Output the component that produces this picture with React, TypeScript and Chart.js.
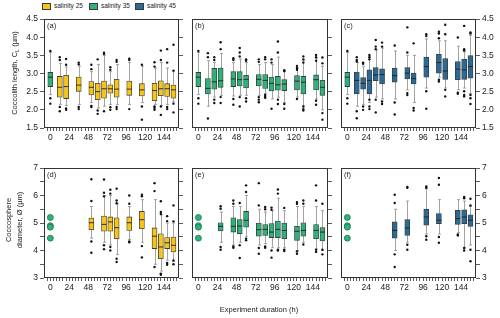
import React, { useEffect, useRef } from "react";
import { Chart, registerables } from "chart.js";

Chart.register(...registerables);

const FONT_FAMILY = "'Liberation Sans', Arial, Helvetica, sans-serif";
const COLOR_25 = "#f6c519";
const COLOR_35 = "#2fb27a";
const COLOR_45 = "#2b6a95";
const EDGE = "#3a3a3a";
const TEXT = "#222";

// x axis (experiment duration, h)
const X_LABELS = [0, 24, 48, 72, 96, 120, 144];
// y ticks
const LENGTH_TICKS = [1.5, 2, 2.5, 3, 3.5, 4, 4.5];
const DIAMETER_TICKS = [3, 3.5, 4, 4.5, 5, 5.5, 6, 6.5, 7];
const DIAMETER_LABELS = [3, 4, 5, 6, 7];

type Stat = [number, number, number, number, number, number]; // [t, whiskerLow, q1, median, q3, whiskerHigh]

// reference (t = 0, salinity 35 inoculum)
const REF_LENGTH: Stat = [0, 2.42, 2.64, 2.9, 3.03, 3.58];
const REF_LENGTH_OUT = [3.62, 2.32, 2.17];
const REF_DIAMETER = [5.2, 4.9, 4.85, 4.45];

// (a) coccolith length, salinity 25
const LENGTH_S25: Stat[] = [
  [12, 2.15, 2.35, 2.62, 2.92, 3.28],
  [20, 2.12, 2.31, 2.64, 2.95, 3.18],
  [36, 2.15, 2.51, 2.68, 2.9, 3.2],
  [52, 2.2, 2.41, 2.62, 2.78, 3.05],
  [60, 2.05, 2.28, 2.5, 2.73, 3.25],
  [68, 2.1, 2.32, 2.58, 2.79, 3.5],
  [76, 2.15, 2.46, 2.58, 2.69, 3.05],
  [84, 2.15, 2.35, 2.57, 2.84, 3.25],
  [100, 2.15, 2.4, 2.57, 2.79, 3.3],
  [116, 2.2, 2.38, 2.55, 2.72, 3.2],
  [132, 2.15, 2.25, 2.53, 2.73, 3.15],
  [140, 2.12, 2.39, 2.58, 2.8, 3.3],
  [148, 2.15, 2.37, 2.58, 2.72, 3.15],
  [156, 2.22, 2.32, 2.55, 2.68, 3.05],
];
const LENGTH_S25_OUT = [
  [3.45, 3.37, 2.08, 1.96],
  [3.4, 3.24, 2.04, 2.0],
  [3.3, 3.25, 2.08, 2.02],
  [3.24, 3.12, 2.11, 2.08],
  [3.39, 1.98, 1.89],
  [3.57, 3.54, 1.96],
  [3.17, 3.1, 2.07, 2.0],
  [3.37, 3.32, 2.08, 2.02],
  [3.41, 3.37, 2.02],
  [3.24, 2.09, 1.73],
  [3.31, 3.19, 2.09, 2.05, 2.0],
  [3.63, 3.37, 2.09, 1.86],
  [3.67, 3.3, 2.08, 2.02],
  [3.79, 3.08, 2.17, 1.93],
];

// (b) coccolith length, salinity 35
const LENGTH_S35: Stat[] = [
  [12, 2.1, 2.44, 2.59, 2.86, 3.35],
  [20, 2.35, 2.57, 2.77, 3.14, 3.3],
  [28, 2.4, 2.62, 2.8, 3.15, 3.55],
  [44, 2.38, 2.64, 2.85, 3.05, 3.3],
  [52, 2.4, 2.66, 2.83, 3.05, 3.4],
  [60, 2.4, 2.6, 2.84, 2.95, 3.3],
  [76, 2.4, 2.66, 2.84, 2.97, 3.25],
  [84, 2.45, 2.59, 2.81, 2.97, 3.3],
  [92, 2.3, 2.52, 2.73, 2.9, 3.25],
  [100, 2.35, 2.54, 2.69, 2.92, 3.45],
  [108, 2.2, 2.53, 2.71, 2.83, 3.05],
  [124, 2.35, 2.55, 2.79, 2.94, 3.15],
  [132, 2.1, 2.44, 2.76, 2.92, 3.35],
  [148, 2.3, 2.55, 2.83, 2.96, 3.42],
  [156, 2.0, 2.4, 2.62, 2.81, 3.2],
];
const LENGTH_S35_OUT = [
  [3.56, 3.45, 1.76],
  [3.45, 3.37, 2.28, 2.19],
  [3.86, 3.67, 2.35, 2.19],
  [3.42, 3.37, 2.3, 2.14],
  [3.7, 3.58, 3.47, 2.35, 2.09],
  [3.39, 3.35, 2.32, 2.23],
  [3.39, 3.32, 2.35, 2.28, 2.21],
  [3.45, 3.39, 2.41, 2.37, 2.33],
  [3.39, 3.3, 2.03],
  [3.88, 3.58, 2.28, 2.16],
  [3.09, 3.07, 2.16, 2.03],
  [3.21, 3.15, 3.1, 2.3],
  [3.47, 3.39, 3.3, 2.09, 2.02, 1.98],
  [3.51, 3.45, 3.35, 2.25, 2.14],
  [3.44, 3.28, 1.91, 1.73],
];

// (c) coccolith length, salinity 45
const LENGTH_S45: Stat[] = [
  [12, 2.1, 2.44, 2.81, 3.04, 3.3],
  [20, 2.15, 2.57, 2.73, 2.89, 3.2],
  [28, 2.2, 2.44, 2.81, 3.1, 3.45],
  [36, 2.35, 2.8, 2.96, 3.16, 3.65],
  [44, 2.3, 2.71, 2.97, 3.13, 3.7],
  [60, 2.3, 2.76, 2.94, 3.15, 3.62],
  [76, 2.55, 2.85, 3.01, 3.16, 3.5],
  [84, 2.2, 2.71, 2.86, 3.01, 3.5],
  [100, 2.6, 2.9, 3.19, 3.45, 3.95],
  [116, 2.9, 3.01, 3.3, 3.53, 3.9],
  [124, 2.6, 2.84, 3.07, 3.41, 3.9],
  [140, 2.55, 2.83, 3.12, 3.33, 3.75],
  [148, 2.6, 2.84, 3.1, 3.4, 3.6],
  [156, 2.45, 2.87, 3.19, 3.49, 4.05],
];
const LENGTH_S45_OUT = [
  [3.45, 3.37, 3.33, 1.96, 1.77],
  [3.3, 3.27, 2.09, 2.0],
  [3.51, 3.45, 3.39, 2.28, 2.09, 2.02],
  [3.92, 3.74, 3.67, 2.28, 1.93],
  [3.85, 3.74, 2.23, 2.16],
  [3.77, 2.2, 1.87],
  [4.27, 3.58, 2.46, 2.41],
  [3.83, 2.05, 1.98],
  [4.08, 4.03, 2.51, 2.03],
  [4.15, 4.1, 3.97, 2.83, 2.78],
  [4.34, 4.08, 2.55, 2.37],
  [3.99, 2.47, 2.44],
  [4.31, 3.67, 3.63, 2.51, 2.41, 2.37],
  [4.13, 4.1, 2.41, 2.32, 2.16],
];

// (d) coccosphere diameter, salinity 25
const DIAM_S25: Stat[] = [
  [52, 4.45, 4.76, 5.01, 5.18, 5.6],
  [68, 4.3, 4.7, 4.95, 5.25, 6.0],
  [76, 4.2, 4.7, 5.04, 5.22, 6.0],
  [84, 3.85, 4.43, 4.83, 5.19, 5.7],
  [100, 4.4, 4.73, 5.01, 5.22, 5.6],
  [116, 4.3, 4.79, 5.12, 5.42, 5.85],
  [132, 3.5, 4.07, 4.52, 4.82, 5.85],
  [140, 3.25, 3.7, 4.13, 4.61, 5.3],
  [148, 3.65, 4.07, 4.28, 4.47, 5.0],
  [156, 3.6, 3.95, 4.19, 4.49, 5.0],
];
const DIAM_S25_OUT = [
  [6.59, 5.8, 4.33, 3.92],
  [6.58, 6.1, 5.97, 4.19, 4.05],
  [6.21, 6.07, 4.13, 4.0],
  [6.25, 5.82, 5.72, 3.7, 3.58],
  [6.0, 5.7, 4.33, 4.3],
  [6.03, 5.97, 4.16, 3.75],
  [6.45, 6.16, 3.4],
  [5.79, 5.4, 5.33, 3.16, 3.12],
  [5.25, 5.07, 3.55, 3.48],
  [5.64, 5.06, 3.64, 3.5],
];

// (e) coccosphere diameter, salinity 35
const DIAM_S35: Stat[] = [
  [28, 4.3, 4.71, 4.88, 5.01, 5.4],
  [44, 4.2, 4.67, 4.88, 5.19, 5.6],
  [52, 4.3, 4.61, 4.89, 5.12, 5.6],
  [60, 4.5, 4.85, 5.1, 5.42, 6.0],
  [76, 4.2, 4.52, 4.76, 5.0, 5.5],
  [84, 4.25, 4.55, 4.77, 4.94, 5.4],
  [92, 4.1, 4.47, 4.67, 4.98, 5.45],
  [100, 4.1, 4.47, 4.77, 5.07, 5.9],
  [108, 4.1, 4.43, 4.73, 5.0, 5.45],
  [124, 4.0, 4.37, 4.7, 4.88, 5.6],
  [132, 4.3, 4.52, 4.73, 5.01, 5.6],
  [148, 4.05, 4.43, 4.73, 4.94, 5.6],
  [156, 4.0, 4.35, 4.67, 4.83, 5.45],
];
const DIAM_S35_OUT = [
  [5.61, 5.52, 4.13, 4.03],
  [5.82, 5.7, 4.15, 4.1],
  [5.73, 4.19, 3.73],
  [6.37, 6.13, 4.43, 4.37],
  [6.45, 5.64, 4.09, 3.88],
  [5.58, 5.5, 4.15, 4.1],
  [5.56, 5.48, 4.0, 3.74],
  [6.22, 6.07, 4.03, 4.0],
  [5.55, 4.03, 3.98],
  [5.76, 5.7, 3.97, 3.88],
  [5.82, 5.7, 4.22],
  [6.37, 5.82, 4.03, 3.95],
  [5.7, 4.03, 3.86],
];

// (f) coccosphere diameter, salinity 45
const DIAM_S45: Stat[] = [
  [60, 4.0, 4.45, 4.73, 5.04, 5.5],
  [76, 4.3, 4.55, 4.82, 5.12, 5.8],
  [100, 4.6, 4.92, 5.22, 5.5, 6.25],
  [116, 4.6, 4.98, 5.1, 5.34, 5.85],
  [140, 4.65, 4.95, 5.16, 5.46, 5.85],
  [148, 4.1, 4.98, 5.22, 5.48, 5.8],
  [156, 4.2, 4.88, 5.1, 5.3, 5.6],
];
const DIAM_S45_OUT = [
  [6.03, 5.73, 3.86, 3.4],
  [6.31, 6.28, 4.21, 4.03],
  [6.33, 6.28, 4.52, 4.39],
  [6.64, 6.39, 4.49, 4.28],
  [4.58, 4.55],
  [5.95, 5.9, 4.09, 4.0],
  [5.88, 5.64, 4.03, 3.61],
];

const X_MIN = -8;
const X_MAX = 163;
const PAD_TOP = 8;
const BOTTOM_H = 18;

type PanelProps = {
  label: string;
  stats: Stat[];
  outs: number[][];
  color: string;
  refKind: "box" | "dots";
  yMin: number;
  yMax: number;
  yTicks: number[];
  yLabels: number[];
  decimals: number;
  showLeft: boolean;
  showRight: boolean;
  plotL: number;
  plotR: number;
  plotT: number;
  plotB: number;
  leftW: number;
  rightW: number;
};

function Panel(p: PanelProps) {
  const ref = useRef<HTMLCanvasElement>(null);
  const width = p.plotR - p.plotL + p.leftW + p.rightW;
  const height = PAD_TOP + (p.plotB - p.plotT) + BOTTOM_H;
  const left = p.plotL - p.leftW;
  const top = p.plotT - PAD_TOP;

  useEffect(() => {
    const allBoxes: Stat[] = p.refKind === "box" ? [REF_LENGTH, ...p.stats] : [...p.stats];
    const outPts: { x: number; y: number }[] = [];
    p.stats.forEach((s, i) => (p.outs[i] || []).forEach((v) => outPts.push({ x: s[0], y: v })));
    if (p.refKind === "box") REF_LENGTH_OUT.forEach((v) => outPts.push({ x: 0, y: v }));

    const tickFont = { family: FONT_FAMILY, size: 8.5 };
    const yLabelCb = (v: any) => {
      const n = Number(v);
      return p.yLabels.some((l) => Math.abs(l - n) < 1e-6) ? n.toFixed(p.decimals) : "";
    };
    const yTicksBuild = (axis: any) => {
      axis.ticks = p.yTicks.map((v) => ({ value: v }));
    };

    const datasets: any[] = [];
    if (p.refKind === "box") {
      datasets.push({
        type: "bar",
        data: [{ x: REF_LENGTH[0], y: [REF_LENGTH[2], REF_LENGTH[4]] }],
        backgroundColor: COLOR_35,
        borderColor: EDGE,
        borderWidth: 0.8,
        borderSkipped: false,
        barThickness: 5,
        grouped: false,
        order: 3,
      });
    }
    datasets.push({
      type: "bar",
      data: p.stats.map((s) => ({ x: s[0], y: [s[2], s[4]] })),
      backgroundColor: p.color,
      borderColor: EDGE,
      borderWidth: 0.8,
      borderSkipped: false,
      barThickness: 5,
      grouped: false,
      order: 3,
    });
    datasets.push({
      type: "scatter",
      data: outPts,
      pointRadius: 1.2,
      pointBackgroundColor: "#111",
      pointBorderWidth: 0,
      order: 1,
    });
    if (p.refKind === "dots") {
      datasets.push({
        type: "scatter",
        data: REF_DIAMETER.map((v) => ({ x: 0, y: v })),
        pointRadius: 3,
        pointBackgroundColor: COLOR_35,
        pointBorderColor: "#1d7a50",
        pointBorderWidth: 0.8,
        order: 0,
      });
    }

    const boxPlugin = {
      id: "boxWhiskers",
      beforeDatasetsDraw(chart: any) {
        const { ctx } = chart;
        const x = chart.scales.x;
        const y = chart.scales.y;
        ctx.save();
        ctx.strokeStyle = "#8c8c8c";
        ctx.lineWidth = 0.8;
        for (const b of allBoxes) {
          const px = Math.round(x.getPixelForValue(b[0])) + 0.5;
          const lo = y.getPixelForValue(b[1]);
          const hi = y.getPixelForValue(b[5]);
          ctx.beginPath();
          ctx.moveTo(px, lo);
          ctx.lineTo(px, hi);
          ctx.moveTo(px - 1.5, lo);
          ctx.lineTo(px + 1.5, lo);
          ctx.moveTo(px - 1.5, hi);
          ctx.lineTo(px + 1.5, hi);
          ctx.stroke();
        }
        ctx.restore();
      },
      afterDatasetsDraw(chart: any) {
        const { ctx, chartArea } = chart;
        const x = chart.scales.x;
        const y = chart.scales.y;
        ctx.save();
        ctx.strokeStyle = "#1e1e1e";
        ctx.lineWidth = 0.9;
        for (const b of allBoxes) {
          const px = x.getPixelForValue(b[0]);
          const py = y.getPixelForValue(b[3]);
          ctx.beginPath();
          ctx.moveTo(px - 2.5, py);
          ctx.lineTo(px + 2.5, py);
          ctx.stroke();
        }
        // frame
        ctx.strokeStyle = "#333";
        ctx.lineWidth = 1;
        const l = Math.round(chartArea.left) + 0.5;
        const r = Math.round(chartArea.right) - 0.5;
        const t = Math.round(chartArea.top) + 0.5;
        const bt = Math.round(chartArea.bottom) - 0.5;
        ctx.strokeRect(l, t, r - l, bt - t);
        // panel label
        ctx.fillStyle = TEXT;
        ctx.font = `7.5px ${FONT_FAMILY}`;
        ctx.textBaseline = "top";
        ctx.textAlign = "left";
        ctx.fillText(p.label, chartArea.left + 3, chartArea.top + 3);
        ctx.restore();
      },
    };

    const chart = new Chart(ref.current as HTMLCanvasElement, {
      type: "bar",
      data: { datasets },
      options: {
        animation: false,
        responsive: false,
        devicePixelRatio: 1,
        layout: { padding: { top: PAD_TOP, left: 0, right: 0, bottom: 0 } },
        plugins: { legend: { display: false }, tooltip: { enabled: false } },
        scales: {
          x: {
            type: "linear",
            min: X_MIN,
            max: X_MAX,
            offset: false,
            afterBuildTicks: (axis: any) => {
              const arr: { value: number }[] = [];
              for (let v = -4; v <= 160; v += 4) arr.push({ value: v });
              axis.ticks = arr;
            },
            afterFit: (axis: any) => {
              axis.height = BOTTOM_H;
            },
            ticks: {
              autoSkip: false,
              maxRotation: 0,
              minRotation: 0,
              padding: 2,
              color: TEXT,
              font: tickFont,
              callback: (v: any) => (X_LABELS.includes(Number(v)) ? String(v) : ""),
            },
            grid: {
              display: true,
              offset: false,
              drawOnChartArea: false,
              drawTicks: true,
              tickLength: 3,
              color: "#333",
              lineWidth: 0.8,
            },
            border: { display: false },
          },
          y: {
            type: "linear",
            position: "left",
            min: p.yMin,
            max: p.yMax,
            afterBuildTicks: yTicksBuild,
            afterFit: (axis: any) => {
              axis.width = p.leftW;
            },
            ticks: {
              display: p.showLeft,
              autoSkip: false,
              padding: 2,
              color: TEXT,
              font: tickFont,
              callback: yLabelCb,
            },
            grid: {
              display: p.showLeft,
              drawOnChartArea: false,
              drawTicks: true,
              tickLength: 4,
              color: "#333",
              lineWidth: 0.8,
            },
            border: { display: false },
          },
          y2: {
            type: "linear",
            position: "right",
            min: p.yMin,
            max: p.yMax,
            afterBuildTicks: yTicksBuild,
            afterFit: (axis: any) => {
              axis.width = p.rightW;
            },
            ticks: {
              display: p.showRight,
              autoSkip: false,
              padding: 2,
              color: TEXT,
              font: tickFont,
              callback: yLabelCb,
            },
            grid: {
              display: true,
              drawOnChartArea: false,
              drawTicks: true,
              tickLength: 4,
              color: "#333",
              lineWidth: 0.8,
            },
            border: { display: false },
          },
        },
      } as any,
      plugins: [boxPlugin],
    });
    return () => chart.destroy();
  }, []);

  return (
    <canvas
      ref={ref}
      width={width}
      height={height}
      style={{ position: "absolute", left, top, width, height }}
    />
  );
}

const COLS = [
  { l: 44, r: 179, leftW: 44, rightW: 8 },
  { l: 192, r: 328, leftW: 8, rightW: 8 },
  { l: 341, r: 476, leftW: 6, rightW: 24 },
];
const ROW_TOP = { t: 19, b: 128 };
const ROW_BOT = { t: 168, b: 278 };

const legendItems = [
  { text: "salinity 25", color: COLOR_25, x: 42 },
  { text: "salinity 35", color: COLOR_35, x: 89 },
  { text: "salinity 45", color: COLOR_45, x: 135 },
];

export default function App() {
  const topCommon = {
    yMin: 1.5,
    yMax: 4.5,
    yTicks: LENGTH_TICKS,
    yLabels: LENGTH_TICKS,
    decimals: 1,
    refKind: "box" as const,
    plotT: ROW_TOP.t,
    plotB: ROW_TOP.b,
  };
  const botCommon = {
    yMin: 3,
    yMax: 7,
    yTicks: DIAMETER_TICKS,
    yLabels: DIAMETER_LABELS,
    decimals: 0,
    refKind: "dots" as const,
    plotT: ROW_BOT.t,
    plotB: ROW_BOT.b,
  };
  const textStyle: React.CSSProperties = { fontFamily: FONT_FAMILY, color: TEXT, position: "absolute", whiteSpace: "nowrap" };
  return (
    <div style={{ position: "absolute", left: 0, top: 0, width: 500, height: 318, background: "#fff", overflow: "hidden" }}>
      {legendItems.map((it) => (
        <div key={it.text} style={{ ...textStyle, left: it.x, top: 2, fontSize: 6.5, lineHeight: "8px", display: "flex", alignItems: "center" }}>
          <span style={{ display: "inline-block", width: 7, height: 5, background: it.color, border: `0.8px solid ${EDGE}`, marginRight: 3 }} />
          <span>{it.text}</span>
        </div>
      ))}
      <Panel label="(a)" stats={LENGTH_S25} outs={LENGTH_S25_OUT} color={COLOR_25} {...topCommon} showLeft={true} showRight={false} plotL={COLS[0].l} plotR={COLS[0].r} leftW={COLS[0].leftW} rightW={COLS[0].rightW} />
      <Panel label="(b)" stats={LENGTH_S35} outs={LENGTH_S35_OUT} color={COLOR_35} {...topCommon} showLeft={false} showRight={false} plotL={COLS[1].l} plotR={COLS[1].r} leftW={COLS[1].leftW} rightW={COLS[1].rightW} />
      <Panel label="(c)" stats={LENGTH_S45} outs={LENGTH_S45_OUT} color={COLOR_45} {...topCommon} showLeft={false} showRight={true} plotL={COLS[2].l} plotR={COLS[2].r} leftW={COLS[2].leftW} rightW={COLS[2].rightW} />
      <Panel label="(d)" stats={DIAM_S25} outs={DIAM_S25_OUT} color={COLOR_25} {...botCommon} showLeft={true} showRight={false} plotL={COLS[0].l} plotR={COLS[0].r} leftW={COLS[0].leftW} rightW={COLS[0].rightW} />
      <Panel label="(e)" stats={DIAM_S35} outs={DIAM_S35_OUT} color={COLOR_35} {...botCommon} showLeft={false} showRight={false} plotL={COLS[1].l} plotR={COLS[1].r} leftW={COLS[1].leftW} rightW={COLS[1].rightW} />
      <Panel label="(f)" stats={DIAM_S45} outs={DIAM_S45_OUT} color={COLOR_45} {...botCommon} showLeft={false} showRight={true} plotL={COLS[2].l} plotR={COLS[2].r} leftW={COLS[2].leftW} rightW={COLS[2].rightW} />
      <div style={{ ...textStyle, left: 15, top: 73, fontSize: 7.5, transform: "translate(-50%, -50%) rotate(-90deg)" }}>
        Coccolith length, C<sub style={{ fontSize: 5.5 }}>L</sub> (µm)
      </div>
      <div style={{ ...textStyle, left: 14, top: 220, fontSize: 7.5, lineHeight: "11px", textAlign: "center", transform: "translate(-50%, -50%) rotate(-90deg)" }}>
        Coccosphere
        <br />
        diameter, Ø (µm)
      </div>
      <div style={{ ...textStyle, left: 259, top: 309, fontSize: 7.5, transform: "translate(-50%, -50%)" }}>
        Experiment duration (h)
      </div>
    </div>
  );
}
